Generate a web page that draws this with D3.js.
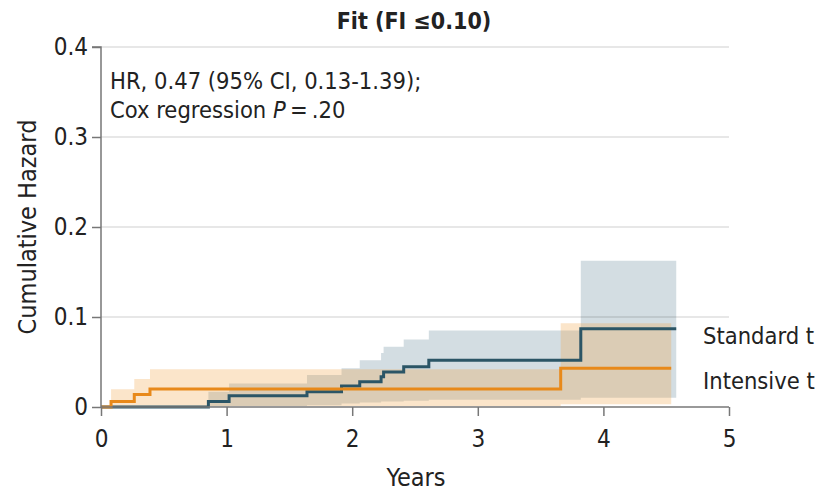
<!DOCTYPE html>
<html>
<head>
<meta charset="utf-8">
<script src="https://cdn.jsdelivr.net/npm/d3@7"></script>
<style>
  body { margin: 0; background: #fff; }
  svg text { font-family: "DejaVu Sans Condensed", "DejaVu Sans", sans-serif; font-stretch: condensed; fill: #222; }
</style>
</head>
<body>
<svg id="chart" width="821" height="492"></svg>
<script>
// Cumulative hazard step curves with 95% confidence bands
const yTicks = [0, 0.1, 0.2, 0.3, 0.4];
const yTickLabels = ["0", "0.1", "0.2", "0.3", "0.4"];
const xTicks = [0, 1, 2, 3, 4, 5];
const xTickLabels = ["0", "1", "2", "3", "4", "5"];

// Standard treatment
const stdTimes = [0, 0.855, 1.02, 1.64, 1.915, 2.06, 2.23, 2.25, 2.41, 2.61, 3.82, 4.58];
const stdHazard = [0, 0.006, 0.0126, 0.017, 0.0233, 0.028, 0.0337, 0.039, 0.0448, 0.052, 0.087, 0.087];
const stdLower = [0, 0, 0.001, 0.002, 0.004, 0.005, 0.006, 0.006, 0.007, 0.008, 0.0103, 0.0103];
const stdUpper = [0, 0.017, 0.026, 0.0355, 0.043, 0.052, 0.060, 0.067, 0.075, 0.085, 0.1626, 0.1626];

// Intensive treatment
const intTimes = [0, 0.08, 0.265, 0.39, 3.66, 4.54];
const intHazard = [0, 0.006, 0.014, 0.020, 0.043, 0.043];
const intLower = [0, 0, 0, 0.001, 0.003, 0.003];
const intUpper = [0, 0.0197, 0.031, 0.042, 0.093, 0.093];

const titleText = "Fit (FI ≤0.10)";
const legendLabels = ["Standard t", "Intensive t"];

const svg = d3.select("#chart");
const x = d3.scaleLinear().domain([0, 5]).range([101, 729]);
const y = d3.scaleLinear().domain([0, 0.4]).range([407, 47]);

const blue = "#2b5566", orange = "#e8891a";

function rows(times, h, lo, hi) {
  return times.map((t, i) => ({ t, h: h[i], lo: lo[i], hi: hi[i] }));
}
const stdRows = rows(stdTimes, stdHazard, stdLower, stdUpper);
const intRows = rows(intTimes, intHazard, intLower, intUpper);

const band = d3.area().curve(d3.curveStepAfter)
  .x(d => x(d.t)).y0(d => y(d.lo)).y1(d => y(d.hi));
const line = d3.line().curve(d3.curveStepAfter)
  .x(d => x(d.t)).y(d => y(d.h));

// confidence bands (each band starts at the first event)
svg.append("path").datum(stdRows.slice(1))
  .attr("d", band).attr("fill", "#d3dde2");
svg.append("path").datum(intRows.slice(1))
  .attr("d", band).attr("fill", "#f0a040").attr("fill-opacity", 0.28);

// gridlines
svg.append("g").selectAll("line").data(yTicks.slice(1)).join("line")
  .attr("x1", x(0)).attr("x2", x(5))
  .attr("y1", d => y(d)).attr("y2", d => y(d))
  .attr("stroke", "rgba(0,0,0,0.13)").attr("stroke-width", 1.5);

// hazard curves
svg.append("path").datum(stdRows).attr("d", line)
  .attr("fill", "none").attr("stroke", blue).attr("stroke-width", 3);
svg.append("path").datum(intRows).attr("d", line)
  .attr("fill", "none").attr("stroke", orange).attr("stroke-width", 3);

// axes
const yAxis = d3.axisLeft(y).tickValues(yTicks)
  .tickFormat((d, i) => yTickLabels[i]).tickSize(9).tickPadding(4);
const gy = svg.append("g").attr("transform", `translate(${x(0)},0)`).call(yAxis);
const xAxis = d3.axisBottom(x).tickValues(xTicks)
  .tickFormat((d, i) => xTickLabels[i]).tickSize(9).tickPadding(14);
const gx = svg.append("g").attr("transform", `translate(0,${y(0)})`).call(xAxis);
[gx, gy].forEach(g => {
  g.select(".domain").attr("stroke", "#777").attr("stroke-width", 1.5);
  g.selectAll(".tick line").attr("stroke", "#777").attr("stroke-width", 1.5);
  g.selectAll(".tick text").attr("font-size", 24).attr("fill", "#222")
    .style("font-family", "'DejaVu Sans Condensed', 'DejaVu Sans', sans-serif")
    .style("font-stretch", "condensed");
});
gx.selectAll(".tick text").attr("dy", "0.72em");
gy.select(".domain").attr("d", `M-9,${y(0.4)}H0V${y(0)}`);
gx.select(".domain").attr("d", `M${x(0)},0H${x(5)}`);

// titles and labels
svg.append("text").attr("x", 414).attr("y", 29).attr("text-anchor", "middle")
  .attr("font-size", 23).attr("font-weight", "bold").text(titleText);
svg.append("text").attr("x", 416).attr("y", 486).attr("text-anchor", "middle")
  .attr("font-size", 25).text("Years");
svg.append("text").attr("transform", "translate(36,227) rotate(-90)")
  .attr("text-anchor", "middle").attr("font-size", 25).text("Cumulative Hazard");

svg.append("text").attr("x", 110).attr("y", 89).attr("font-size", 23.5)
  .text("HR, 0.47 (95% CI, 0.13-1.39);");
const t2 = svg.append("text").attr("x", 110).attr("y", 117.5).attr("font-size", 23.5);
t2.append("tspan").text("Cox regression ");
t2.append("tspan").attr("font-style", "italic").text("P");
t2.append("tspan").text("\u2009=\u2009.20");

svg.append("text").attr("x", 703).attr("y", 344).attr("font-size", 23.5).text(legendLabels[0]);
svg.append("text").attr("x", 703).attr("y", 389).attr("font-size", 23.5).text(legendLabels[1]);
</script>
</body>
</html>
